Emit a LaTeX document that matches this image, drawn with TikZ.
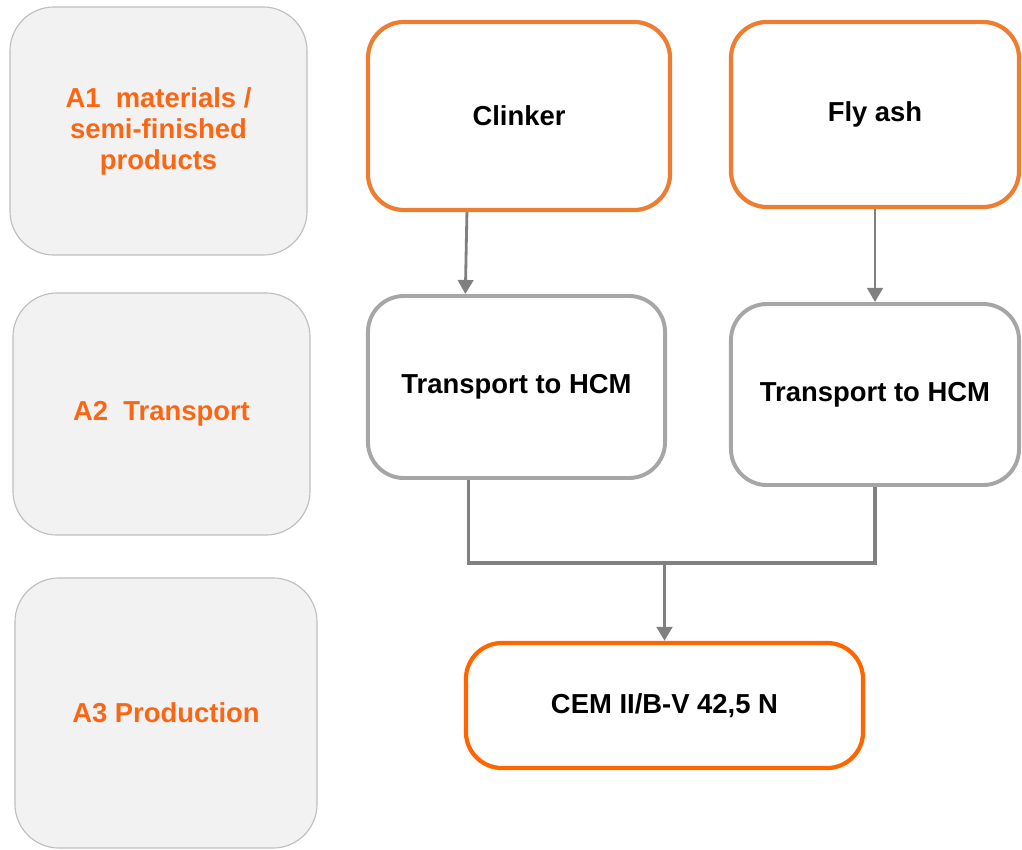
\documentclass[tikz,border=0pt]{standalone}
\usepackage{fontspec}
\setmainfont{Liberation Sans}
\usetikzlibrary{arrows.meta,calc}
\definecolor{stageorange}{RGB}{250,102,20}
\definecolor{boxorange}{RGB}{237,125,49}
\definecolor{cemorange}{RGB}{255,102,0}
\definecolor{stagefill}{RGB}{242,242,242}
\definecolor{stageline}{RGB}{190,190,190}
\definecolor{flowgrey}{RGB}{128,128,128}
\definecolor{transgrey}{RGB}{166,166,166}
\begin{document}
\begin{tikzpicture}[x=0.025cm,y=-0.025cm,
        stage/.style={shape=rectangle,rounded corners=1.1cm,fill=stagefill,draw=stageline,line width=0.8pt,
            text=stageorange,font=\fontsize{19.5}{22}\selectfont\bfseries,align=center},
        material/.style={shape=rectangle,rounded corners=0.9cm,fill=white,draw=boxorange,line width=3pt,
            font=\fontsize{19.5}{22}\selectfont\bfseries,align=center},
        transport/.style={material,draw=transgrey,line width=2.8pt},
        flow/.style={draw=flowgrey,line width=2pt,-{Triangle[width=11pt,length=10pt]}},
        link/.style={draw=flowgrey,line width=2.4pt}]
            \useasboundingbox (0,0) rectangle (1022,850);

            \node[stage,minimum width=7.425cm,minimum height=6.2cm] (S1) at (158.5,131) {A1\ \ materials /\\semi-finished\\products};
            \node[stage,minimum width=7.425cm,minimum height=6.05cm] (S2) at (161.5,414) {A2\ \ Transport};
            \node[stage,minimum width=7.55cm,minimum height=6.75cm] (S3) at (166,713) {A3 Production};

            \node[material,minimum width=7.55cm,minimum height=4.7cm] (clinker) at (519,116) {Clinker};
            \node[material,minimum width=7.2cm,minimum height=4.625cm] (flyash) at (875,114.5) {Fly ash};
            \node[transport,minimum width=7.425cm,minimum height=4.55cm] (trans1) at (516.5,387) {Transport to HCM};
            \node[transport,minimum width=7.2cm,minimum height=4.525cm] (trans2) at (875,394.5) {Transport to HCM};
            \node[material,draw=cemorange,minimum width=9.925cm,minimum height=3.125cm] (cem) at (664.5,705.5) {CEM II/B-V 42,5 N};

            \coordinate (join) at (664.5,563);

            \path[flow] ($(clinker.south west)!.33!(clinker.south east)$) -- ($(trans1.north west)!.33!(trans1.north east)$);
            \path[flow] (flyash.south) -- (trans2.north);
            \path[link] ($(trans1.south west)!.34!(trans1.south east)$) |- (join) -| (trans2.south);
            \path[flow,line width=2.6pt] (join) -- (cem.north);

        \end{tikzpicture}
\end{document}
